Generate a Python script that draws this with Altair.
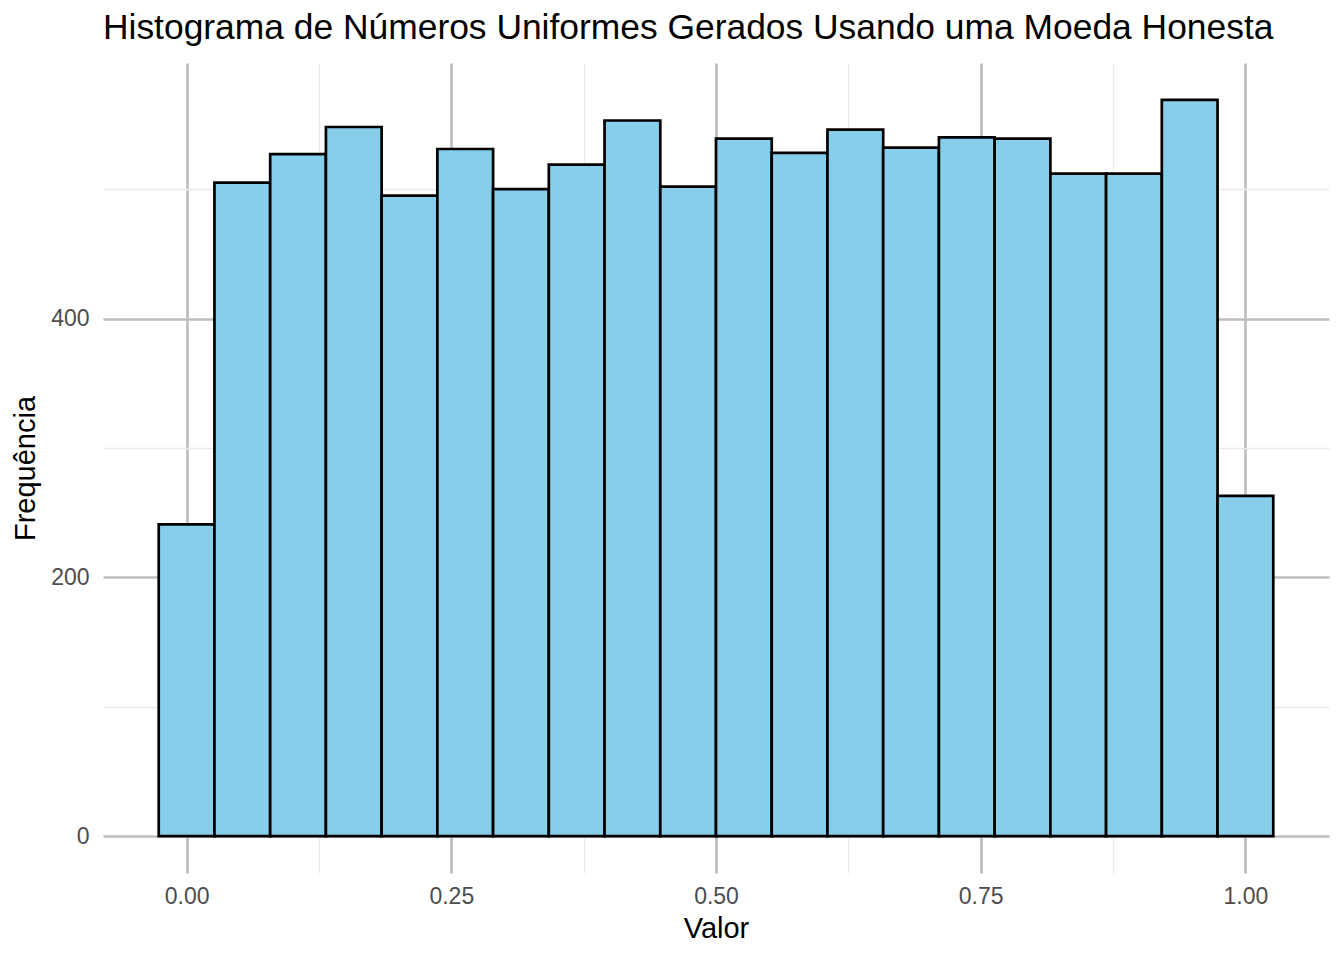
import altair as alt
import pandas as pd

# Histogram data (20 bins, centred on i/19)
bin_centers = [i / 19 for i in range(20)]
counts = [241, 505, 527, 548, 495, 531, 500, 519, 553, 502,
          539, 528, 546, 532, 540, 539, 512, 512, 569, 263]
bin_width = 1 / 19

x_ticks = [0, 0.125, 0.25, 0.375, 0.5, 0.625, 0.75, 0.875, 1.0]
y_ticks = [0, 100, 200, 300, 400, 500]

df = pd.DataFrame({
    "start": [c - bin_width / 2 for c in bin_centers],
    "end": [c + bin_width / 2 for c in bin_centers],
    "count": counts,
})

xmin, xmax = df["start"].min(), df["end"].max()
xpad = (xmax - xmin) * 0.05
ymax = max(counts)
ypad = ymax * 0.05

FONT = "Liberation Sans"

x_axis = alt.Axis(
    values=x_ticks,
    labelExpr="(round(datum.value*8) % 2 == 0) ? format(datum.value, '.2f') : ''",
    gridColor={"condition": {"test": "round(datum.value*8) % 2 == 0", "value": "#BEBEBE"}, "value": "#EBEBEB"},
    gridWidth={"condition": {"test": "round(datum.value*8) % 2 == 0", "value": 2.7}, "value": 1.35},
    domain=False, ticks=False,
    labelFont=FONT, labelFontSize=23, labelColor="#4D4D4D", labelPadding=12,
    titleFont=FONT, titleFontSize=29, titleFontWeight="normal", titleColor="black",
    titlePadding=6, labelFlush=False, labelOverlap=False,
)
y_axis = alt.Axis(
    values=y_ticks,
    labelExpr="(datum.value % 200 == 0) ? format(datum.value, 'd') : ''",
    gridColor={"condition": {"test": "datum.value % 200 == 0", "value": "#BEBEBE"}, "value": "#EBEBEB"},
    gridWidth={"condition": {"test": "datum.value % 200 == 0", "value": 2.7}, "value": 1.35},
    domain=False, ticks=False,
    labelFont=FONT, labelFontSize=23, labelColor="#4D4D4D", labelPadding=14,
    titleFont=FONT, titleFontSize=29, titleFontWeight="normal", titleColor="black",
    titlePadding=10, labelFlush=False, labelOverlap=False,
)

chart = alt.Chart(df).mark_rect(
    fill="#87CEEB", stroke="black", strokeWidth=2.7
).encode(
    x=alt.X("start:Q", title="Valor",
            scale=alt.Scale(domain=[xmin - xpad, xmax + xpad], nice=False, zero=False),
            axis=x_axis),
    x2="end:Q",
    y=alt.Y("count:Q", title="Frequência",
            scale=alt.Scale(domain=[-ypad, ymax + ypad], nice=False, zero=False),
            axis=y_axis),
    y2=alt.datum(0),
).properties(
    width=1226,
    height=810,
    title=alt.TitleParams(
        "Histograma de Números Uniformes Gerados Usando uma Moeda Honesta",
        anchor="start", frame="group", font=FONT, fontSize=35.4,
        fontWeight="normal", color="black", offset=17,
    ),
    autosize=alt.AutoSizeParams(type="none"),
    padding={"left": 95, "top": 55, "right": 7, "bottom": 79},
).configure_view(stroke=None)

chart.save("out.html", embed_options={"renderer": "svg", "actions": False})
